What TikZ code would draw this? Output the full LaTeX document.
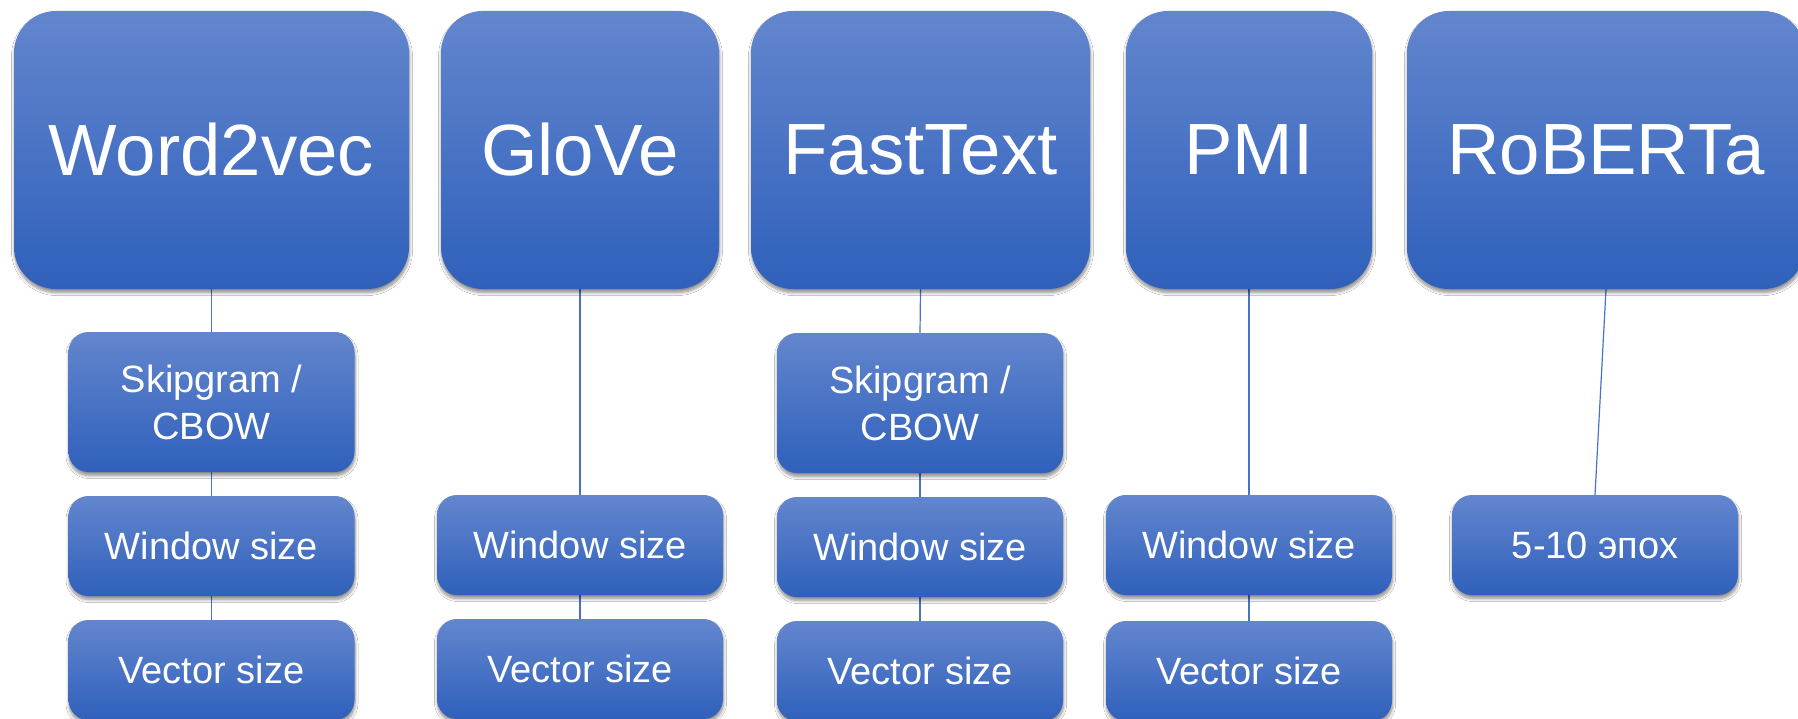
\documentclass[tikz,border=0pt]{standalone}
\usepackage{fontspec}
\setmainfont{Liberation Sans}
\usetikzlibrary{shadows.blur,backgrounds}
\definecolor{boxtop}{RGB}{99,134,206}
\definecolor{boxbot}{RGB}{47,96,187}
\definecolor{linkblue}{RGB}{72,114,200}
\tikzset{
  box/.style={draw=none, rounded corners=#1, top color=boxtop, bottom color=boxbot,
    text=white, inner sep=0pt, align=center,
    blur shadow={shadow xshift=0.5pt, shadow yshift=-3.5pt, shadow blur radius=3pt,
      shadow blur steps=8, shadow opacity=45}},
  model/.style={box=42pt, font=\fontsize{72.6}{80}\selectfont, minimum height=278pt},
  param/.style={box=20pt, font=\fontsize{38}{47}\selectfont, minimum width=286pt, minimum height=100pt},
  tallparam/.style={param, minimum height=140pt},
  link/.style={draw=linkblue, line width=1.2pt}
}
\begin{document}
\begin{tikzpicture}[x=1pt,y=-1pt]
\useasboundingbox (0,0) rectangle (1798,719);

% model boxes
\node[model, minimum width=395pt] (w2v)   at (211.5,150) {Word2vec};
\node[model, minimum width=278pt] (glove) at (580,150)   {GloVe};
\node[model, minimum width=339pt] (ft)    at (920.5,150) {FastText};
\node[model, minimum width=246pt] (pmi)   at (1249,150)  {PMI};
\node[model, minimum width=398pt] (rob)   at (1606,150)  {RoBERTa};

% Word2vec parameters
\node[tallparam] (w2va) at (211.5,402) {Skipgram /\\CBOW};
\node[param]     (w2vb) at (211.5,546) {Window size};
\node[param]     (w2vc) at (211.5,670) {Vector size};

% GloVe parameters
\node[param] (gloveb) at (580,545) {Window size};
\node[param] (glovec) at (580,669) {Vector size};

% FastText parameters
\node[tallparam] (fta) at (920,403) {Skipgram /\\CBOW};
\node[param]     (ftb) at (920,547) {Window size};
\node[param]     (ftc) at (920,671) {Vector size};

% PMI parameters
\node[param] (pmib) at (1249,545) {Window size};
\node[param] (pmic) at (1249,671) {Vector size};

% RoBERTa parameters
\node[param] (robb) at (1595,545) {5-10 эпох};

\begin{scope}[on background layer]
  \fill[white] (0,0) rectangle (1798,719);
  \draw[link] (w2v.south) -- (w2va.north);
  \draw[link] (w2va.south) -- (w2vb.north);
  \draw[link] (w2vb.south) -- (w2vc.north);
  \draw[link] (glove.south) -- (gloveb.north);
  \draw[link] (gloveb.south) -- (glovec.north);
  \draw[link] (ft.south) -- (fta.north);
  \draw[link] (fta.south) -- (ftb.north);
  \draw[link] (ftb.south) -- (ftc.north);
  \draw[link] (pmi.south) -- (pmib.north);
  \draw[link] (pmib.south) -- (pmic.north);
  \draw[link] (rob.south) -- (robb.north);
\end{scope}
\end{tikzpicture}
\end{document}
